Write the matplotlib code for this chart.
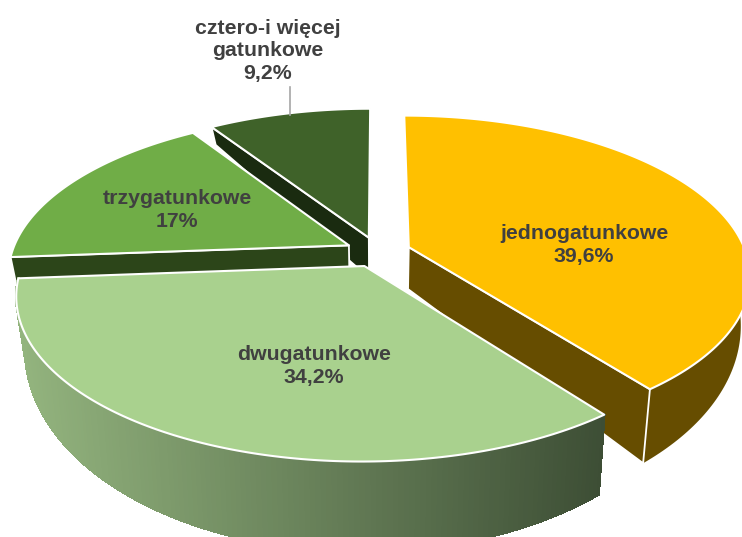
import numpy as np
import matplotlib
matplotlib.use("Agg")
import matplotlib.pyplot as plt
from matplotlib.patches import Polygon
from matplotlib.collections import PolyCollection
from matplotlib.colors import to_rgb

# ---- data ----
categories = ["jednogatunkowe", "dwugatunkowe", "trzygatunkowe", "cztero-i więcej\ngatunkowe"]
values = [39.6, 34.2, 17.0, 9.2]
value_labels = ["39,6%", "34,2%", "17%", "9,2%"]

# ---- style ----
top_colors = ["#FFC000", "#A9D18E", "#70AD47", "#3F6229"]
wall_colors = ["#664D00", None, "#2C4519", "#1A2B10"]
visible_wall = [-1, None, 0, 0]   # which radial side of each slice faces the viewer
grad_left, grad_right = "#93B47E", "#3D4E35"
text_color = "#404040"
label_pos = [(584, 245), (314, 366), (177, 210), (268, 51)]
CX, CY, R, TILT, PERSP, EXPLODE = 378, 252, 337, 0.4630, 0.174, 0.097
DEPTH0, DEPTH1, DEPTH2, BOTTOM_SCALE = 43, 34.5, 8, 0.975

fig = plt.figure(figsize=(7.42, 5.37), dpi=100)
ax = fig.add_axes([0, 0, 1, 1])
ax.set_xlim(0, 742)
ax.set_ylim(537, 0)
ax.axis("off")


def project(u, v, bottom=False):
    w = 1 / (1 - PERSP * v)
    x = R * u * w
    y = R * TILT * v * w
    if bottom:
        x = x * BOTTOM_SCALE
        y = y + DEPTH0 + DEPTH1 * v + DEPTH2 * v ** 2
    return np.column_stack([CX + x, CY + y])


total = sum(values)
edges = np.concatenate([[0], np.cumsum(values)]) / total * 2 * np.pi
wedges = []
for i in range(len(values)):
    a0, a1 = edges[i], edges[i + 1]
    mid = (a0 + a1) / 2
    ou, ov = EXPLODE * np.sin(mid), -EXPLODE * np.cos(mid)
    th = np.linspace(a0, a1, 160)
    wedges.append(dict(th=th, ou=ou, ov=ov,
                       u=ou + np.sin(th), v=ov - np.cos(th)))

# painter's order: back to front
for i in [3, 2, 0, 1]:
    wd = wedges[i]
    ou, ov, u, v, th = wd["ou"], wd["ov"], wd["u"], wd["v"], wd["th"]
    apex_t = project(np.array([ou]), np.array([ov]))
    apex_b = project(np.array([ou]), np.array([ov]), True)
    rim_t = project(u, v)
    rim_b = project(u, v, True)
    wall = wall_colors[i]
    # outer rim wall (only the part facing the viewer)
    front = -np.cos(th) > -0.12
    if front.any():
        idx = np.where(front)[0]
        if wall is not None:
            q = np.vstack([rim_t[idx], rim_b[idx][::-1]])
            ax.add_patch(Polygon(q, closed=True, fc=wall, ec="none"))
        else:
            quads, cols = [], []
            cl, cr = np.array(to_rgb(grad_left)), np.array(to_rgb(grad_right))
            xmin, xmax = rim_t[idx, 0].min(), rim_t[idx, 0].max()
            for a, b in zip(idx[:-1], idx[1:]):
                quads.append([rim_t[a], rim_t[b], rim_b[b], rim_b[a]])
                f = ((rim_t[a, 0] + rim_t[b, 0]) / 2 - xmin) / (xmax - xmin)
                cols.append(cl + (cr - cl) * f)
            ax.add_collection(PolyCollection(quads, facecolors=cols, edgecolors=cols,
                                             linewidths=1.2, antialiaseds=False))
    # radial wall
    if visible_wall[i] is not None:
        j = visible_wall[i]
        q = np.vstack([apex_t, rim_t[j], rim_b[j], apex_b])
        ax.add_patch(Polygon(q, closed=True, fc=wall, ec="white", lw=1.3, joinstyle="round"))
    # top face
    top = np.vstack([apex_t, rim_t])
    ax.add_patch(Polygon(top, closed=True, fc=top_colors[i], ec="white", lw=1.5, joinstyle="round"))

# leader line
ax.plot([290, 290], [87, 115], color="#A6A6A6", lw=1.2, zorder=5)

for cat, val, (x, y) in zip(categories, value_labels, label_pos):
    ax.text(x, y, f"{cat}\n{val}", ha="center", va="center", fontsize=15.3,
            fontweight="bold", family="Liberation Sans", color=text_color,
            linespacing=1.25, zorder=6)

fig.savefig("out.png", dpi=100)
